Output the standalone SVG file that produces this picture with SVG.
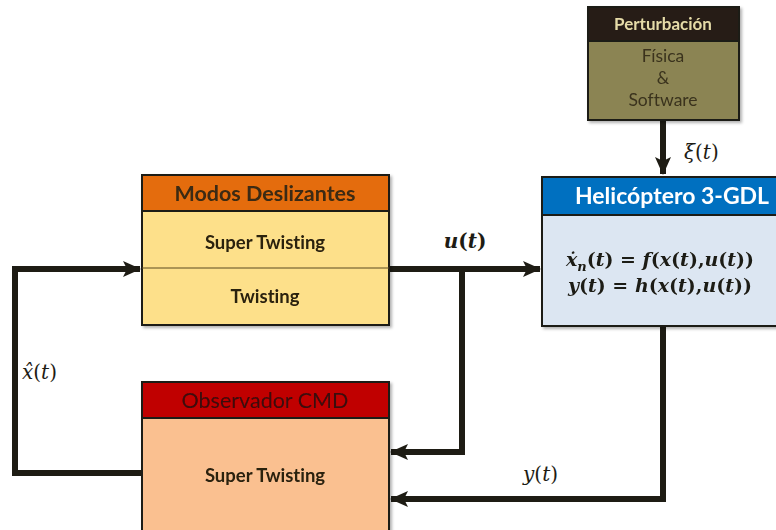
<svg xmlns="http://www.w3.org/2000/svg" width="776" height="530" viewBox="0 0 776 530">
  <defs>
    <marker id="arrow" markerUnits="userSpaceOnUse" markerWidth="18" markerHeight="18" viewBox="0 0 18 18" refX="17" refY="9" orient="auto">
      <path d="M0,1 L18,9 L0,17 L4,9 Z" fill="#1e1c14"/>
    </marker>
    <filter id="shadow" x="-5%" y="-5%" width="112%" height="115%">
      <feDropShadow dx="2" dy="2" stdDeviation="1.5" flood-color="#000" flood-opacity="0.3"/>
    </filter>
  </defs>
  <style>
    text { font-variant-ligatures: none; }
    .box { stroke: #1e1c14; stroke-width: 2; }
    .wire { fill: none; stroke: #1e1c14; stroke-width: 6; stroke-linejoin: miter; }
    .head { font-family: Lato, "Open Sans", sans-serif; font-weight: bold; font-size: 21.5px; text-anchor: middle; }
    .body { font-family: Lato, "Open Sans", sans-serif; font-weight: bold; font-size: 18.5px; text-anchor: middle; fill: #2a2010; }
    .math { font-family: "DejaVu Serif", serif; font-style: italic; font-size: 20px; fill: #1e1c14; }
    .mathb { font-family: "DejaVu Serif", serif; font-style: italic; font-weight: bold; font-size: 19px; fill: #1e1c14; text-anchor: middle; }
    .up { font-style: normal; }
  </style>
  <rect width="776" height="530" fill="#ffffff"/>

  <!-- connectors -->
  <g id="connectors">
    <path class="wire" d="M663,120 V174" marker-end="url(#arrow)"/>
    <path class="wire" d="M389,269 H540" marker-end="url(#arrow)"/>
    <path class="wire" d="M462,269 V452 H391" marker-end="url(#arrow)"/>
    <path class="wire" d="M663,326 V499 H391" marker-end="url(#arrow)"/>
    <path class="wire" d="M142,473 H15 V269 H140" marker-end="url(#arrow)"/>
    <text class="math" x="684" y="159">ξ<tspan class="up">(</tspan>t<tspan class="up">)</tspan></text>
    <text class="mathb" x="465" y="248" style="font-size:20px">u<tspan class="up">(</tspan>t<tspan class="up">)</tspan></text>
    <text class="math" x="523" y="481">y<tspan class="up">(</tspan>t<tspan class="up">)</tspan></text>
    <text class="math" x="22" y="379">x̂<tspan class="up">(</tspan>t<tspan class="up">)</tspan></text>
  </g>

  <!-- disturbance block -->
  <g id="perturbacion" filter="url(#shadow)">
    <rect class="box" x="588" y="7" width="151" height="113" fill="#8b8453"/>
    <rect class="box" x="588" y="7" width="151" height="34" fill="#261f15"/>
    <text class="body" x="663" y="30" style="font-size:17px; fill:#e6dba8">Perturbación</text>
    <g font-family="Lato, 'Open Sans', sans-serif" font-size="17.5" fill="#3a331e" text-anchor="middle">
      <text x="663" y="62">Física</text>
      <text x="663" y="84">&amp;</text>
      <text x="663" y="106">Software</text>
    </g>
  </g>

  <!-- plant block -->
  <g id="helicoptero" filter="url(#shadow)">
    <rect class="box" x="542" y="177" width="240" height="149" fill="#dce6f2"/>
    <rect class="box" x="542" y="177" width="240" height="38" fill="#0070c0"/>
    <text class="head" x="672" y="204" style="font-size:23px; fill:#ffffff">Helicóptero 3-GDL</text>
    <text class="mathb" x="660" y="266">ẋ<tspan font-size="13" dy="5">n</tspan><tspan dy="-5" class="up">(</tspan>t<tspan class="up">) = </tspan>f<tspan class="up">(</tspan>x<tspan class="up">(</tspan>t<tspan class="up">),</tspan>u<tspan class="up">(</tspan>t<tspan class="up">))</tspan></text>
    <text class="mathb" x="660" y="292">y<tspan class="up">(</tspan>t<tspan class="up">) = </tspan>h<tspan class="up">(</tspan>x<tspan class="up">(</tspan>t<tspan class="up">),</tspan>u<tspan class="up">(</tspan>t<tspan class="up">))</tspan></text>
  </g>

  <!-- controller block -->
  <g id="modos-deslizantes" filter="url(#shadow)">
    <rect class="box" x="142" y="175" width="247" height="150" fill="#fde08a"/>
    <rect class="box" x="142" y="175" width="247" height="36" fill="#e46c0a"/>
    <line x1="142" y1="268" x2="389" y2="268" stroke="#5a4a20" stroke-width="1"/>
    <text class="head" x="265" y="201" style="fill:#3b2a12">Modos Deslizantes</text>
    <text class="body" x="265" y="249">Super Twisting</text>
    <text class="body" x="265" y="303">Twisting</text>
  </g>

  <!-- observer block -->
  <g id="observador" filter="url(#shadow)">
    <rect class="box" x="142" y="382" width="247" height="160" fill="#fac090"/>
    <rect class="box" x="142" y="382" width="247" height="36" fill="#c00000"/>
    <text class="head" x="265" y="408" style="font-weight:normal; fill:#3a0a0a">Observador CMD</text>
    <text class="body" x="265" y="482">Super Twisting</text>
  </g>
</svg>
